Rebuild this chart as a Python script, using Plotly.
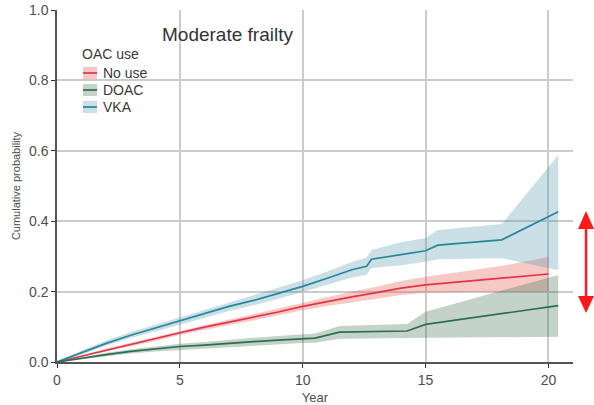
import plotly.graph_objects as go

# ---- data ----
vka_t = [0, 1, 2, 3, 4, 5, 6, 7, 8, 9, 10, 11, 12, 12.6, 12.8, 14, 15, 15.5, 18.1, 20.4]
vka_est = [0, 0.027, 0.053, 0.076, 0.096, 0.116, 0.137, 0.158, 0.175, 0.195, 0.215, 0.238, 0.262, 0.272, 0.292, 0.305, 0.316, 0.332, 0.347, 0.427]
vka_hi = [0, 0.033, 0.061, 0.085, 0.106, 0.127, 0.149, 0.171, 0.19, 0.211, 0.232, 0.257, 0.284, 0.297, 0.318, 0.34, 0.352, 0.375, 0.392, 0.588]
vka_lo = [0, 0.021, 0.046, 0.068, 0.087, 0.105, 0.125, 0.145, 0.161, 0.18, 0.199, 0.219, 0.24, 0.248, 0.267, 0.275, 0.285, 0.292, 0.295, 0.261]

nouse_t = [0, 1, 2, 3, 4, 5, 6, 7, 8, 9, 10, 11, 12, 13, 14, 15, 16, 17, 18, 19, 20]
nouse_est = [0, 0.017, 0.034, 0.05, 0.066, 0.083, 0.099, 0.113, 0.127, 0.142, 0.158, 0.172, 0.185, 0.197, 0.21, 0.219, 0.225, 0.231, 0.237, 0.244, 0.25]
nouse_hi = [0, 0.02, 0.038, 0.055, 0.072, 0.089, 0.106, 0.121, 0.136, 0.152, 0.169, 0.185, 0.2, 0.214, 0.23, 0.242, 0.252, 0.262, 0.272, 0.285, 0.298]
nouse_lo = [0, 0.014, 0.03, 0.045, 0.06, 0.077, 0.092, 0.105, 0.118, 0.132, 0.147, 0.159, 0.17, 0.18, 0.19, 0.197, 0.198, 0.199, 0.2, 0.2, 0.2]

doac_t = [0, 1, 2, 3, 4, 5, 6, 7, 8, 9, 10, 10.5, 11.5, 14.25, 15, 20.4]
doac_est = [0, 0.011, 0.021, 0.03, 0.037, 0.044, 0.048, 0.054, 0.058, 0.062, 0.066, 0.068, 0.085, 0.088, 0.107, 0.16]
doac_hi = [0, 0.014, 0.026, 0.036, 0.044, 0.052, 0.057, 0.064, 0.069, 0.074, 0.078, 0.081, 0.102, 0.108, 0.143, 0.247]
doac_lo = [0, 0.008, 0.016, 0.024, 0.03, 0.036, 0.04, 0.044, 0.047, 0.05, 0.054, 0.055, 0.066, 0.068, 0.07, 0.072]

legend_labels = ["No use", "DOAC", "VKA"]
x_ticks = [0, 5, 10, 15, 20]
y_ticks = [0.0, 0.2, 0.4, 0.6, 0.8, 1.0]

# ---- styles ----
LINE = {"No use": "#e5334b", "DOAC": "#2d6e50", "VKA": "#27879a"}
BAND = {"No use": "rgba(230,100,90,0.35)", "DOAC": "rgba(60,110,80,0.30)", "VKA": "rgba(70,140,170,0.28)"}
FONT = "Liberation Sans, Arial, sans-serif"

series = [
    ("No use", nouse_t, nouse_est, nouse_hi, nouse_lo),
    ("VKA", vka_t, vka_est, vka_hi, vka_lo),
    ("DOAC", doac_t, doac_est, doac_hi, doac_lo),
]

fig = go.Figure()
for name, t, est, hi, lo in series:
    fig.add_trace(go.Scatter(
        x=list(t) + list(t)[::-1], y=list(hi) + list(lo)[::-1],
        fill="toself", fillcolor=BAND[name], line=dict(width=0),
        mode="lines", showlegend=False, hoverinfo="skip"))
for name, t, est, hi, lo in series:
    fig.add_trace(go.Scatter(
        x=t, y=est, mode="lines", name=name,
        line=dict(color=LINE[name], width=1.7), showlegend=False))

# plot-area geometry in pixels: left 57, right 573, top 10, bottom 362
L, R, T, B = 57, 573, 10, 362
def px(x):
    return (x - L) / (R - L)
def py(y):
    return (B - y) / (B - T)

shapes = []
annotations = []
# custom legend
annotations.append(dict(x=px(80), y=py(54), xref="paper", yref="paper", text="OAC use",
                        showarrow=False, xanchor="left", yanchor="middle",
                        font=dict(family=FONT, size=14, color="#3a3a3a")))
for i, lab in enumerate(legend_labels):
    cy = 73 + i * 17
    shapes.append(dict(type="rect", xref="paper", yref="paper",
                       x0=px(83), x1=px(97), y0=py(cy - 6), y1=py(cy + 6),
                       fillcolor=BAND[lab], line=dict(width=0)))
    shapes.append(dict(type="line", xref="paper", yref="paper",
                       x0=px(83), x1=px(97), y0=py(cy), y1=py(cy),
                       line=dict(color=LINE[lab], width=1.7)))
    annotations.append(dict(x=px(101), y=py(cy), xref="paper", yref="paper", text=lab,
                            showarrow=False, xanchor="left", yanchor="middle",
                            font=dict(family=FONT, size=14, color="#3a3a3a")))
# title inside plot
annotations.append(dict(x=px(160), y=py(34), xref="paper", yref="paper", text="Moderate frailty",
                        showarrow=False, xanchor="left", yanchor="middle",
                        font=dict(family=FONT, size=19, color="#333333")))
# red double arrow on the right
ax = 586
shapes.append(dict(type="line", xref="paper", yref="paper",
                   x0=px(ax), x1=px(ax), y0=py(226), y1=py(298),
                   line=dict(color="#ff1a1a", width=2.5)))
shapes.append(dict(type="path", xref="paper", yref="paper",
                   path=f"M {px(ax)},{py(211)} L {px(578)},{py(229)} L {px(594)},{py(229)} Z",
                   fillcolor="#ff1a1a", line=dict(width=0)))
shapes.append(dict(type="path", xref="paper", yref="paper",
                   path=f"M {px(ax)},{py(313)} L {px(578)},{py(296)} L {px(594)},{py(296)} Z",
                   fillcolor="#ff1a1a", line=dict(width=0)))

fig.update_layout(
    width=594, height=405,
    margin=dict(l=L, r=594 - R, t=T, b=405 - B, autoexpand=False),
    paper_bgcolor="white", plot_bgcolor="white",
    shapes=shapes, annotations=annotations,
    font=dict(family=FONT, color="#4d4d4d"),
)
fig.update_xaxes(
    range=[0, 21.0], tickvals=x_ticks, ticktext=[str(v) for v in x_ticks],
    showgrid=True, gridcolor="#cccccc", gridwidth=1.5,
    showline=True, linecolor="#555555", linewidth=1.5,
    ticks="outside", ticklen=4, tickcolor="#333333", tickwidth=1.2,
    tickfont=dict(size=14, color="#4d4d4d", family=FONT),
    title=dict(text="Year", font=dict(size=13, color="#4d4d4d", family=FONT), standoff=6),
    zeroline=False, fixedrange=True, automargin=False,
)
fig.update_yaxes(
    range=[0, 1.0], tickvals=y_ticks, ticktext=[f"{v:.1f}" for v in y_ticks],
    showgrid=True, gridcolor="#cccccc", gridwidth=1.5,
    showline=True, linecolor="#555555", linewidth=1.5,
    ticks="outside", ticklen=4, tickcolor="#333333", tickwidth=1.2,
    tickfont=dict(size=14, color="#4d4d4d", family=FONT),
    title=dict(text="Cumulative probability", font=dict(size=11, color="#4d4d4d", family=FONT), standoff=6),
    zeroline=False, fixedrange=True, automargin=False,
)

fig.write_html("out.html")
